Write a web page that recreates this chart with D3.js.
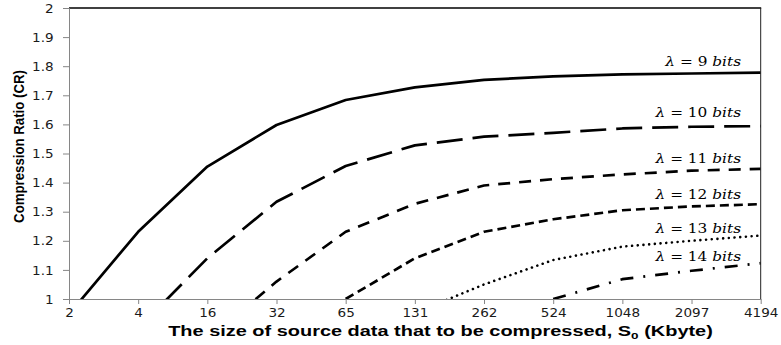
<!DOCTYPE html>
<html>
<head>
<meta charset="utf-8">
<script src="https://cdn.jsdelivr.net/npm/d3@7"></script>
<style>
  html, body { margin: 0; padding: 0; background: #fff; }
  svg { display: block; }
</style>
</head>
<body>
<div id="chart"></div>
<script>
// ---- data ----
const categories = ["2", "4", "16", "32", "65", "131", "262", "524", "1048", "2097", "4194"];
const lambda9  = [0.948, 1.231, 1.455, 1.598, 1.684, 1.727, 1.753, 1.765, 1.772, 1.775, 1.778];
const lambda10 = [null, 0.899, 1.140, 1.334, 1.457, 1.528, 1.558, 1.571, 1.586, 1.592, 1.594];
const lambda11 = [null, null, 0.860, 1.060, 1.231, 1.327, 1.390, 1.412, 1.428, 1.441, 1.447];
const lambda12 = [null, null, null, null, 1.000, 1.140, 1.231, 1.274, 1.305, 1.318, 1.326];
const lambda13 = [null, null, null, null, null, 0.952, 1.050, 1.134, 1.180, 1.200, 1.218];
const lambda14 = [null, null, null, null, null, null, null, 1.000, 1.068, 1.097, 1.123];
const seriesNames = ["9", "10", "11", "12", "13", "14"];
const labelValues = [1.800, 1.625, 1.467, 1.342, 1.227, 1.131];
const yTicks = [1, 1.1, 1.2, 1.3, 1.4, 1.5, 1.6, 1.7, 1.8, 1.9, 2];

const series = [lambda9, lambda10, lambda11, lambda12, lambda13, lambda14];
const dashes = [null, "26,10", "12,9", "9,5", "0.01,5.7", "13,10,2,10"];
const caps = ["butt", "butt", "butt", "butt", "round", "butt"];
const widths = [2.7, 2.7, 2.7, 2.7, 2.6, 2.7];

// ---- layout ----
const W = 781, H = 345;
const mLeft = 69, mRight = 760.7, mTop = 8, mBottom = 299;
const SX = 1.18; // horizontal text stretch seen in the reference

const svg = d3.select("#chart").append("svg").attr("width", W).attr("height", H);

const x = d3.scalePoint().domain(categories).range([mLeft, mRight]);
const y = d3.scaleLinear().domain([1, 2]).range([mBottom, mTop]);

// clip
svg.append("defs").append("clipPath").attr("id", "plotclip")
  .append("rect").attr("x", mLeft).attr("y", mTop).attr("width", mRight - mLeft).attr("height", mBottom - mTop);

// border top/right
svg.append("line").attr("x1", mLeft).attr("x2", mRight + 0.5).attr("y1", y(2)).attr("y2", y(2))
  .attr("stroke", "#000").attr("stroke-width", 1.4);
svg.append("line").attr("x1", mRight).attr("x2", mRight).attr("y1", y(2)).attr("y2", y(1))
  .attr("stroke", "#222").attr("stroke-width", 1);

// axes
const yAxis = d3.axisLeft(y).tickValues(yTicks).tickSize(6).tickPadding(0)
  .tickFormat(d => String(+d.toFixed(1)));
const gy = svg.append("g").attr("transform", `translate(${mLeft},0)`).call(yAxis);
gy.select(".domain").attr("stroke", "#868686");
gy.selectAll(".tick line").attr("stroke", "#868686");
gy.selectAll(".tick text")
  .attr("x", -13).attr("dy", "0.36em")
  .attr("transform", `scale(${SX},1)`)
  .attr("font-family", "DejaVu Sans, Verdana, sans-serif").attr("font-size", 11.5)
  .attr("fill", "#1a1a1a");

const xAxis = d3.axisBottom(x).tickSize(5).tickSizeOuter(0);
const gx = svg.append("g").attr("transform", `translate(0,${mBottom})`).call(xAxis);
gx.select(".domain").attr("stroke", "#868686");
gx.selectAll(".tick line").attr("stroke", "#868686");
gx.selectAll(".tick text")
  .attr("y", 18).attr("dy", 0)
  .attr("transform", `scale(${SX},1)`)
  .attr("font-family", "DejaVu Sans, Verdana, sans-serif").attr("font-size", 11.5)
  .attr("fill", "#1a1a1a");

// lines
const line = d3.line()
  .defined(d => d.v !== null)
  .x(d => x(d.c))
  .y(d => y(d.v));

const plot = svg.append("g").attr("clip-path", "url(#plotclip)");
series.forEach((s, i) => {
  const pts = s.map((v, j) => ({ c: categories[j], v }));
  const p = plot.append("path")
    .datum(pts)
    .attr("d", line)
    .attr("fill", "none")
    .attr("stroke", "#000")
    .attr("stroke-width", widths[i])
    .attr("stroke-linecap", caps[i])
    .attr("stroke-linejoin", "round");
  if (dashes[i]) p.attr("stroke-dasharray", dashes[i]);
});

// series labels
series.forEach((s, i) => {
  const t = svg.append("text")
    .attr("transform", `translate(741,${y(labelValues[i])}) scale(${SX},1)`)
    .attr("text-anchor", "end")
    .attr("font-family", "DejaVu Serif, Liberation Serif, serif")
    .attr("font-size", 13)
    .attr("fill", "#000");
  t.append("tspan").attr("font-style", "italic").text("λ");
  t.append("tspan").text(" = " + seriesNames[i] + " ");
  t.append("tspan").attr("font-style", "italic").text("bits");
});

// axis titles
const yt = svg.append("text")
  .attr("text-anchor", "middle")
  .attr("font-family", "Liberation Sans, Arial, sans-serif")
  .attr("font-weight", "bold")
  .attr("font-size", 12)
  .attr("fill", "#000")
  .text("Compression Ratio (CR)");
const ytLen = yt.node().getComputedTextLength();
const ytScale = 153 / ytLen;
yt.attr("transform", `translate(23.5,146.5) scale(${SX},1) rotate(-90) scale(${ytScale},1)`);

const xt = svg.append("text")
  .attr("text-anchor", "middle")
  .attr("font-family", "Liberation Sans, Arial, sans-serif")
  .attr("font-weight", "bold")
  .attr("font-size", 14)
  .attr("fill", "#000");
xt.append("tspan").text("The size of source data that to be compressed, S");
xt.append("tspan").attr("font-size", 9.5).attr("dy", 3).text("0");
xt.append("tspan").attr("dy", -3).text(" (Kbyte)");
const xtLen = xt.node().getComputedTextLength();
const xtScale = 545 / xtLen;
xt.attr("transform", `translate(440.5,336) scale(${xtScale},1)`);
</script>
</body>
</html>
